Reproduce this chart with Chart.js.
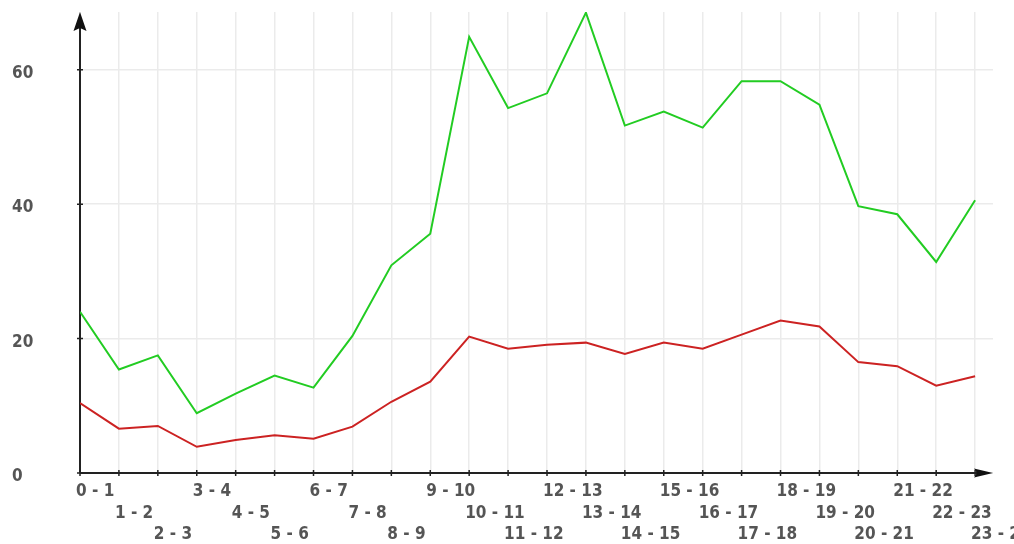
<!DOCTYPE html>
<html><head><meta charset="utf-8">
<script src="https://cdn.jsdelivr.net/npm/chart.js@4.4.1/dist/chart.umd.min.js"></script>
<style>html,body{margin:0;padding:0;background:#fff;overflow:hidden}</style>
</head><body>
<canvas id="c" width="1014" height="544" style="width:1014px;height:544px;display:block"></canvas>
<script>
const categories = ['0 - 1','1 - 2','2 - 3','3 - 4','4 - 5','5 - 6','6 - 7','7 - 8','8 - 9','9 - 10','10 - 11','11 - 12','12 - 13','13 - 14','14 - 15','15 - 16','16 - 17','17 - 18','18 - 19','19 - 20','20 - 21','21 - 22','22 - 23','23 - 24'];
const greenValues = [24.0,15.4,17.5,8.9,11.8,14.5,12.7,20.4,30.9,35.6,64.9,54.3,56.5,68.5,51.7,53.8,51.4,58.3,58.3,54.8,39.7,38.5,31.4,40.6];
const redValues = [10.4,6.6,7.0,3.9,4.9,5.6,5.1,6.9,10.6,13.6,20.3,18.5,19.1,19.4,17.7,19.4,18.5,20.6,22.7,21.8,16.5,15.9,13.0,14.4];
const yTicks = [0,20,40,60];

const FONT = {family:'"DejaVu Sans Condensed", "DejaVu Sans", sans-serif', size:17, weight:'bold', lineHeight:1.265};

const axesPlugin = {
  id:'axesArrows',
  beforeDatasetsDraw(chart){
    const {ctx, chartArea:a, scales:{x,y}} = chart;
    const x0 = x.getPixelForValue(0), y0 = y.getPixelForValue(0);
    ctx.save();
    ctx.strokeStyle = '#222'; ctx.fillStyle = '#111'; ctx.lineWidth = 2;
    ctx.beginPath();
    ctx.moveTo(x0, y0); ctx.lineTo(x0, a.top + 6);
    ctx.moveTo(x0, y0); ctx.lineTo(a.right - 6, y0);
    ctx.stroke();
    ctx.lineWidth = 1.5;
    ctx.beginPath();
    categories.forEach((_, i) => { const px = x.getPixelForValue(i); ctx.moveTo(px, y0 - 3); ctx.lineTo(px, y0 + 3); });
    yTicks.forEach(v => { const py = y.getPixelForValue(v); ctx.moveTo(x0 - 3, py); ctx.lineTo(x0 + 3, py); });
    ctx.stroke();
    ctx.beginPath();
    ctx.moveTo(x0, a.top); ctx.lineTo(x0 - 6.5, a.top + 19); ctx.lineTo(x0, a.top + 16); ctx.lineTo(x0 + 6.5, a.top + 19); ctx.closePath();
    ctx.fill();
    ctx.beginPath();
    ctx.moveTo(a.right, y0); ctx.lineTo(a.right - 19, y0 - 4.5); ctx.lineTo(a.right - 16, y0); ctx.lineTo(a.right - 19, y0 + 4.5); ctx.closePath();
    ctx.fill();
    ctx.restore();
  }
};

const toPoints = arr => arr.map((v, i) => ({x:i, y:v}));

new Chart(document.getElementById('c'), {
  type:'line',
  data:{
    datasets:[
      {label:'green', data:toPoints(greenValues), borderColor:'#22cc22', borderWidth:2, pointRadius:0, tension:0, fill:false},
      {label:'red', data:toPoints(redValues), borderColor:'#cc2222', borderWidth:2, pointRadius:0, tension:0, fill:false}
    ]
  },
  options:{
    responsive:false, animation:false, devicePixelRatio:1,
    layout:{padding:{left:12, right:21, top:12, bottom:0}},
    plugins:{legend:{display:false}, tooltip:{enabled:false}},
    scales:{
      x:{
        type:'linear', min:0, max:23.46,
        afterBuildTicks:s => { s.ticks = categories.map((_, i) => ({value:i})); },
        afterFit:s => { s.height = 71; s.paddingRight = 0; s.paddingLeft = 0; },
        grid:{color:'#ebebeb', lineWidth:1.5, drawTicks:false},
        border:{display:false},
        ticks:{
          autoSkip:false, maxRotation:0, minRotation:0, align:'start', padding:8, labelOffset:-4,
          color:'#555', font:FONT,
          callback:v => { const i = Math.round(v); const rows = []; for (let k = 0; k < i % 3; k++) rows.push(''); rows.push(categories[i]); return rows; }
        }
      },
      y:{
        min:0, max:68.6,
        afterBuildTicks:s => { s.ticks = yTicks.map(v => ({value:v})); },
        afterFit:s => { s.width = 68; s.paddingTop = 0; s.paddingBottom = 0; },
        grid:{color:'#ebebeb', lineWidth:1.5, drawTicks:false},
        border:{display:false},
        ticks:{crossAlign:'far', padding:0, labelOffset:3.5, color:'#555', font:FONT}
      }
    }
  },
  plugins:[axesPlugin]
});
</script>
</body></html>
